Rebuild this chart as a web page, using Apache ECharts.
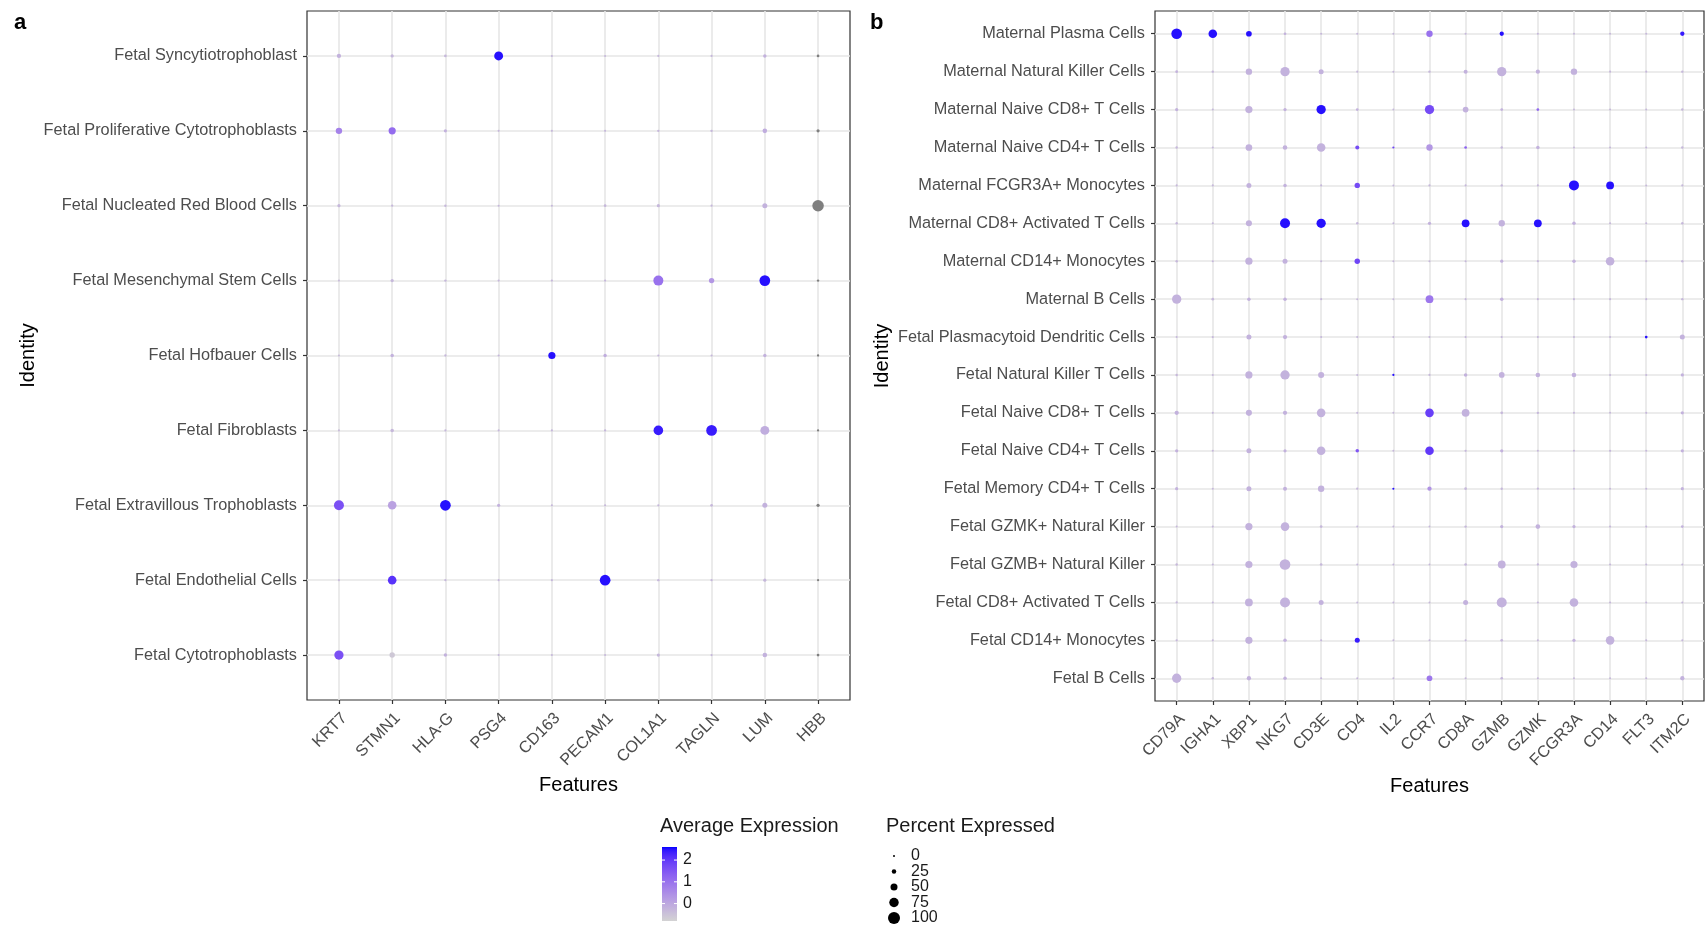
<!DOCTYPE html>
<html><head><meta charset="utf-8">
<script src="https://cdn.jsdelivr.net/npm/echarts@6/dist/echarts.min.js"></script>
<style>html,body{margin:0;padding:0;background:#fff}#c{width:1705px;height:927px}</style>
</head><body><div id="c"></div>
<script>
// ---------- data ----------
const genesA = ["KRT7","STMN1","HLA-G","PSG4","CD163","PECAM1","COL1A1","TAGLN","LUM","HBB"];
const cellsA = ["Fetal Syncytiotrophoblast","Fetal Proliferative Cytotrophoblasts","Fetal Nucleated Red Blood Cells","Fetal Mesenchymal Stem Cells","Fetal Hofbauer Cells","Fetal Fibroblasts","Fetal Extravillous Trophoblasts","Fetal Endothelial Cells","Fetal Cytotrophoblasts"];
const pctA = [
 [23,12,7,69,1,1,2,2,15,7],
 [44,52,12,1,1,1,4,4,26,12],
 [12,3,4,1,1,7,12,2,30,95],
 [1,12,4,2,2,2,80,34,87,4],
 [1,15,3,2,52,14,2,2,14,3],
 [1,15,2,1,1,3,76,87,69,3],
 [80,66,87,12,1,1,3,7,30,12],
 [1,66,3,1,1,87,4,3,12,2],
 [73,34,14,1,1,1,12,2,26,7]
];
const expA = [
 [-0.2,-0.3,-0.3,2.5,-0.3,-0.3,-0.3,-0.3,-0.2,null],
 [0.7,1.1,-0.2,-0.3,-0.3,-0.3,-0.3,-0.3,-0.1,null],
 [-0.3,-0.3,-0.3,-0.3,-0.3,-0.3,-0.3,-0.3,-0.2,null],
 [-0.4,-0.3,-0.3,-0.3,-0.3,-0.3,1.0,0.3,2.5,null],
 [-0.4,-0.2,-0.3,-0.3,2.5,-0.1,-0.3,-0.3,-0.2,null],
 [-0.4,-0.3,-0.3,-0.3,-0.3,-0.3,2.4,2.4,-0.1,null],
 [1.6,0.1,2.5,-0.2,-0.3,-0.3,-0.3,-0.3,-0.2,null],
 [-0.4,2.1,-0.3,-0.3,-0.3,2.5,-0.3,-0.3,-0.3,null],
 [1.6,-0.6,-0.2,-0.3,-0.3,-0.3,-0.3,-0.3,-0.2,null]
];
const genesB = ["CD79A","IGHA1","XBP1","NKG7","CD3E","CD4","IL2","CCR7","CD8A","GZMB","GZMK","FCGR3A","CD14","FLT3","ITM2C"];
const cellsB = ["Maternal Plasma Cells","Maternal Natural Killer Cells","Maternal Naive CD8+ T Cells","Maternal Naive CD4+ T Cells","Maternal FCGR3A+ Monocytes","Maternal CD8+ Activated T Cells","Maternal CD14+ Monocytes","Maternal B Cells","Fetal Plasmacytoid Dendritic Cells","Fetal Natural Killer T Cells","Fetal Naive CD8+ T Cells","Fetal Naive CD4+ T Cells","Fetal Memory CD4+ T Cells","Fetal GZMK+ Natural Killer","Fetal GZMB+ Natural Killer","Fetal CD8+ Activated T Cells","Fetal CD14+ Monocytes","Fetal B Cells"];
const pctB = [
 [87,66,37,7,1,1,0,44,1,23,1,0,0,1,23],
 [7,4,44,73,30,1,0,4,20,73,23,44,1,1,4],
 [12,1,52,12,73,7,0,73,37,7,7,0,0,0,4],
 [4,1,47,26,66,20,2,44,7,4,15,0,0,1,4],
 [1,1,30,15,1,34,0,3,1,4,1,80,58,0,2],
 [4,1,41,80,73,4,0,12,58,44,58,15,1,1,4],
 [4,1,52,30,1,34,0,1,1,12,2,15,66,2,4],
 [73,7,15,15,1,0,0,58,1,15,1,1,1,1,4],
 [1,2,30,23,1,1,0,1,1,1,1,1,1,7,30],
 [4,1,52,73,41,1,2,2,15,37,26,26,1,1,12],
 [23,1,41,23,66,1,0,66,58,7,4,1,0,1,12],
 [12,1,30,12,66,15,0,66,3,12,1,1,2,1,12],
 [12,1,30,20,44,3,1,23,7,4,3,0,0,1,12],
 [0,1,52,66,7,0,0,0,4,12,26,12,1,1,7],
 [4,1,52,87,7,0,0,0,7,58,3,52,1,1,1],
 [3,1,58,80,30,0,0,0,30,80,1,66,1,1,1],
 [3,1,52,15,1,30,0,0,1,7,1,12,66,1,1],
 [73,4,23,15,1,0,0,37,1,7,1,0,0,1,23]
];
const expB = [
 [2.5,2.5,2.5,-0.2,-0.3,-0.3,-0.3,1.0,-0.3,2.5,-0.3,-0.3,-0.3,-0.3,2.4],
 [-0.2,-0.3,-0.2,-0.2,-0.2,-0.3,-0.3,-0.3,-0.2,-0.2,-0.2,-0.2,-0.3,-0.3,-0.3],
 [-0.2,-0.3,-0.2,-0.2,2.5,-0.2,-0.3,1.7,-0.2,-0.2,1.2,-0.3,-0.3,-0.3,-0.3],
 [-0.3,-0.3,-0.2,-0.2,-0.2,1.7,1.8,0.3,1.3,-0.3,-0.2,-0.3,-0.3,-0.3,-0.3],
 [-0.3,-0.3,-0.2,-0.2,-0.3,1.7,-0.3,-0.3,-0.3,-0.3,-0.3,2.5,2.5,-0.3,-0.3],
 [-0.3,-0.3,-0.2,2.5,2.5,-0.3,-0.3,-0.2,2.5,-0.2,2.5,-0.2,-0.3,-0.3,-0.3],
 [-0.3,-0.3,-0.2,-0.2,-0.3,1.8,-0.3,-0.3,-0.3,-0.2,-0.3,-0.2,-0.2,-0.3,-0.3],
 [-0.2,-0.3,-0.2,-0.2,-0.3,-0.3,-0.3,0.9,-0.3,-0.2,-0.3,-0.3,-0.3,-0.3,-0.3],
 [-0.3,-0.3,-0.2,-0.2,-0.3,-0.3,-0.3,-0.3,-0.3,-0.3,-0.3,-0.3,-0.3,2.5,-0.2],
 [-0.3,-0.3,-0.2,-0.2,-0.2,-0.3,2.5,-0.3,-0.2,-0.2,-0.2,-0.2,-0.3,-0.3,-0.2],
 [-0.2,-0.3,-0.2,-0.2,-0.2,-0.3,-0.3,1.9,-0.2,-0.3,-0.3,-0.3,-0.3,-0.3,-0.2],
 [-0.2,-0.3,-0.2,-0.2,-0.2,1.5,-0.3,2.0,-0.3,-0.2,-0.3,-0.3,-0.3,-0.3,-0.2],
 [-0.2,-0.3,-0.2,-0.2,-0.2,-0.3,2.5,0.4,-0.3,-0.3,-0.3,-0.3,-0.3,-0.3,-0.2],
 [-0.3,-0.3,-0.2,-0.2,-0.3,-0.3,-0.3,-0.3,-0.3,-0.2,-0.2,-0.2,-0.3,-0.3,-0.2],
 [-0.3,-0.3,-0.2,-0.2,-0.3,-0.3,-0.3,-0.3,-0.3,-0.2,-0.3,-0.2,-0.3,-0.3,-0.3],
 [-0.3,-0.3,-0.2,-0.2,-0.2,-0.3,-0.3,-0.3,-0.2,-0.2,-0.3,-0.2,-0.3,-0.3,-0.3],
 [-0.3,-0.3,-0.2,-0.2,-0.3,2.4,-0.3,-0.3,-0.3,-0.3,-0.3,-0.2,-0.2,-0.3,-0.3],
 [-0.2,-0.3,-0.2,-0.2,-0.3,-0.3,-0.3,0.9,-0.3,-0.3,-0.3,-0.3,-0.3,-0.3,-0.2]
];
const colorTicks = [0, 1, 2];
const sizeTicks = [0, 25, 50, 75, 100];
const colorLimits = [-0.8, 2.6];

// ---------- colour scale (Lab interpolation, like ggplot) ----------
function lin(c){c/=255;return c<=0.04045?c/12.92:Math.pow((c+0.055)/1.055,2.4);}
function gam(c){c=c<=0.0031308?12.92*c:1.055*Math.pow(c,1/2.4)-0.055;return Math.round(Math.max(0,Math.min(1,c))*255);}
function rgb2lab(rgb){
  const R=lin(rgb[0]),G=lin(rgb[1]),B=lin(rgb[2]);
  const X=(0.4124*R+0.3576*G+0.1805*B)/0.95047, Y=0.2126*R+0.7152*G+0.0722*B, Z=(0.0193*R+0.1192*G+0.9505*B)/1.08883;
  const f=t=>t>0.008856?Math.cbrt(t):7.787*t+16/116;
  const fx=f(X),fy=f(Y),fz=f(Z);
  return [116*fy-16,500*(fx-fy),200*(fy-fz)];
}
function lab2rgb(lab){
  const fy=(lab[0]+16)/116, fx=fy+lab[1]/500, fz=fy-lab[2]/200;
  const fi=t=>t>0.206893?t*t*t:(t-16/116)/7.787;
  const X=fi(fx)*0.95047,Y=fi(fy),Z=fi(fz)*1.08883;
  const R=3.2406*X-1.5372*Y-0.4986*Z, G=-0.9689*X+1.8758*Y+0.0415*Z, B=0.0557*X-0.2040*Y+1.0570*Z;
  return 'rgb('+gam(R)+','+gam(G)+','+gam(B)+')';
}
const LOW=rgb2lab([211,211,211]), HIGH=rgb2lab([0,0,255]);
function colorAt(z){
  let t=(z-colorLimits[0])/(colorLimits[1]-colorLimits[0]); t=Math.max(0,Math.min(1,t));
  return lab2rgb([LOW[0]+(HIGH[0]-LOW[0])*t,LOW[1]+(HIGH[1]-LOW[1])*t,LOW[2]+(HIGH[2]-LOW[2])*t]);
}
const NA_COLOR='#7F7F7F';
const dotSize = p => 2 + 0.1*p;

// ---------- build ----------
const FONT="'Liberation Sans', Arial, sans-serif";
function buildData(pct, exp){
  const d=[];
  pct.forEach((row,i)=>row.forEach((p,j)=>d.push([j,i,p,exp[i][j]])));
  return d;
}
function xAxisCfg(gi, genes){
  const idx=genes.map((g,i)=>i);
  return {type:'value', gridIndex:gi, min:-0.6, max:genes.length-0.4, position:'bottom',
    axisLine:{show:false, onZero:false},
    axisTick:{show:true, customValues:idx, length:4, lineStyle:{color:'#333', width:1.2}},
    axisLabel:{customValues:idx, formatter:v=>genes[Math.round(v)], rotate:45, verticalAlign:'top', color:'#4D4D4D', fontSize:16.3, margin:10, fontFamily:FONT},
    splitLine:{show:true, lineStyle:{color:'#E6E6E6', width:1.6}},
    name:'Features', nameLocation:'middle', nameGap:75, nameTextStyle:{color:'#000', fontSize:20, fontFamily:FONT}
  };
}
function yAxisCfg(gi, cells, gap){
  const idx=cells.map((g,i)=>i);
  return {type:'value', gridIndex:gi, inverse:true, min:-0.6, max:cells.length-0.4, position:'left',
    axisLine:{show:false, onZero:false},
    axisTick:{show:true, customValues:idx, length:4, lineStyle:{color:'#333', width:1.2}},
    axisLabel:{customValues:idx, formatter:v=>cells[Math.round(v)], color:'#4D4D4D', fontSize:16.3, margin:10, fontFamily:FONT},
    splitLine:{show:true, lineStyle:{color:'#E6E6E6', width:1.6}},
    name:'Identity', nameLocation:'middle', nameGap:gap, nameRotate:90, nameTextStyle:{color:'#000', fontSize:20, fontFamily:FONT}
  };
}
function seriesCfg(gi, pct, exp){
  return {type:'scatter', xAxisIndex:gi, yAxisIndex:gi, data:buildData(pct,exp), symbol:'circle',
    symbolSize:v=>dotSize(v[2]),
    itemStyle:{opacity:1, color:p=>p.data[3]==null?NA_COLOR:colorAt(p.data[3])},
    emphasis:{disabled:true}, silent:true, animation:false};
}

// legend graphics
const graphics=[
  {type:'text', left:14, top:12, style:{text:'a', font:'bold 22px '+FONT, fill:'#000'}},
  {type:'text', left:870, top:12, style:{text:'b', font:'bold 22px '+FONT, fill:'#000'}},
  {type:'text', left:660, top:816, style:{text:'Average Expression', font:'20px '+FONT, fill:'#1a1a1a'}},
  {type:'text', left:886, top:816, style:{text:'Percent Expressed', font:'20px '+FONT, fill:'#1a1a1a'}}
];
const barX=662, barW=15, barTop=847, barH=74;
const stops=[]; for(let k=0;k<=40;k++){const t=k/40; stops.push({offset:t, color:colorAt(colorLimits[0]+t*(colorLimits[1]-colorLimits[0]))});}
graphics.push({type:'rect', shape:{x:barX,y:barTop,width:barW,height:barH}, style:{fill:new echarts.graphic.LinearGradient(0,1,0,0,stops)}});
colorTicks.forEach(v=>{
  const y=barTop+barH-(v-colorLimits[0])/(colorLimits[1]-colorLimits[0])*barH;
  graphics.push({type:'line', shape:{x1:barX,y1:y,x2:barX+3,y2:y}, style:{stroke:'#fff', lineWidth:1}});
  graphics.push({type:'line', shape:{x1:barX+barW-3,y1:y,x2:barX+barW,y2:y}, style:{stroke:'#fff', lineWidth:1}});
  graphics.push({type:'text', x:683, y:y, style:{text:String(v), font:'16px '+FONT, fill:'#1a1a1a', textVerticalAlign:'middle'}});
});
sizeTicks.forEach((v,k)=>{
  const y=856+k*15.5;
  graphics.push({type:'circle', shape:{cx:894, cy:y, r:dotSize(v)/2}, style:{fill:'#000'}});
  graphics.push({type:'text', x:911, y:y, style:{text:String(v), font:'16px '+FONT, fill:'#1a1a1a', textVerticalAlign:'middle'}});
});

const chart=echarts.init(document.getElementById('c'));
chart.setOption({
  backgroundColor:'#fff', animation:false,
  textStyle:{fontFamily:FONT},
  grid:[
    {left:307, top:11, right:855, bottom:227, show:true, borderColor:'#333', borderWidth:1.2, backgroundColor:'transparent'},
    {left:1155, top:11, right:1, bottom:226, show:true, borderColor:'#333', borderWidth:1.2, backgroundColor:'transparent'}
  ],
  xAxis:[xAxisCfg(0,genesA), xAxisCfg(1,genesB)],
  yAxis:[yAxisCfg(0,cellsA,269), yAxisCfg(1,cellsB,263)],
  series:[seriesCfg(0,pctA,expA), seriesCfg(1,pctB,expB)],
  graphic:graphics
});
</script></body></html>
